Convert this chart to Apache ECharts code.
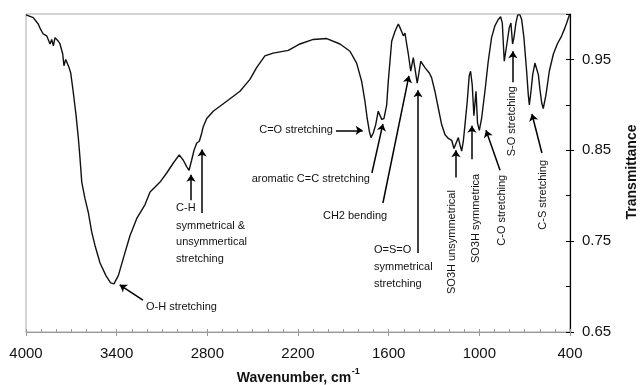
<!DOCTYPE html>
<html>
<head>
<meta charset="utf-8">
<script src="https://cdn.jsdelivr.net/npm/echarts@6/dist/echarts.min.js"></script>
<style>
  html, body { margin: 0; padding: 0; background: #fff; }
  #chart { width: 640px; height: 385px; }
</style>
</head>
<body>
<div id="chart"></div>
<script>
// FT-IR spectrum: wavenumber (cm-1) against transmittance
const wavenumbers = [
  4000, 3952, 3919, 3903, 3886, 3863, 3841, 3830, 3819, 3808, 3797, 3786, 3775, 3757, 3749, 3737,
  3727, 3715, 3704, 3691, 3680, 3669, 3654, 3643, 3631, 3610, 3588, 3565, 3543, 3510, 3471, 3440,
  3418, 3389, 3356, 3312, 3267, 3213, 3179, 3113, 3069, 3025, 2986, 2959, 2937, 2921, 2904, 2888,
  2870, 2853, 2837, 2827, 2804, 2761, 2672, 2584, 2518, 2474, 2419, 2364, 2264, 2187, 2099, 2010,
  1922, 1856, 1812, 1779, 1757, 1742, 1728, 1717, 1702, 1686, 1669, 1658, 1646, 1631, 1613, 1603,
  1580, 1558, 1536, 1525, 1514, 1503, 1492, 1481, 1470, 1454, 1437, 1426, 1411, 1398, 1388, 1375,
  1360, 1331, 1316, 1294, 1271, 1249, 1227, 1205, 1183, 1168, 1155, 1139, 1128, 1117, 1106, 1095,
  1080, 1067, 1058, 1047, 1036, 1022, 1012, 1000, 985, 963, 941, 919, 897, 875, 859, 848,
  842, 835, 826, 815, 802, 791, 780, 771, 758, 746, 731, 720, 705, 687, 676, 669,
  658, 647, 632, 621, 609, 599, 587, 577, 559, 537, 510, 484, 455, 433, 422, 415,
  406, 400
];
const transmittance = [
  0.999, 0.996, 0.989, 0.983, 0.978, 0.976, 0.967, 0.972, 0.965, 0.974, 0.976, 0.970, 0.967, 0.956, 0.943, 0.950,
  0.950, 0.941, 0.935, 0.919, 0.904, 0.889, 0.864, 0.842, 0.815, 0.797, 0.782, 0.760, 0.745, 0.726, 0.712, 0.704,
  0.703, 0.712, 0.731, 0.756, 0.775, 0.790, 0.804, 0.815, 0.825, 0.836, 0.845, 0.839, 0.832, 0.828, 0.839, 0.850,
  0.858, 0.860, 0.869, 0.876, 0.885, 0.893, 0.904, 0.915, 0.928, 0.941, 0.954, 0.957, 0.960, 0.967, 0.972, 0.973,
  0.967, 0.959, 0.946, 0.926, 0.904, 0.885, 0.871, 0.864, 0.869, 0.878, 0.893, 0.891, 0.884, 0.885, 0.900, 0.925,
  0.970, 0.981, 0.989, 0.985, 0.983, 0.976, 0.979, 0.967, 0.956, 0.937, 0.952, 0.950, 0.924, 0.937, 0.948, 0.946,
  0.941, 0.935, 0.930, 0.915, 0.896, 0.878, 0.867, 0.863, 0.861, 0.852, 0.854, 0.864, 0.856, 0.849, 0.860, 0.878,
  0.904, 0.932, 0.937, 0.922, 0.888, 0.915, 0.880, 0.872, 0.885, 0.915, 0.948, 0.974, 0.987, 0.994, 0.997, 0.990,
  0.970, 0.948, 0.946, 0.970, 0.985, 0.990, 0.967, 0.974, 0.990, 0.999, 0.999, 0.994, 0.974, 0.937, 0.911, 0.900,
  0.915, 0.933, 0.946, 0.944, 0.933, 0.917, 0.902, 0.896, 0.911, 0.937, 0.956, 0.967, 0.976, 0.985, 0.990, 0.989,
  0.998, 0.999
];

const xTickLabels = [4000, 3400, 2800, 2200, 1600, 1000, 400];
const yTickLabels = [0.65, 0.75, 0.85, 0.95];

// band assignments: label text and where it sits (wavenumber, transmittance)
const bandLabels = [
  { text: 'C=O stretching', wn: 1969, t: 0.872, align: 'right' },
  { text: 'aromatic C=C stretching', wn: 1724, t: 0.818, align: 'right' },
  { text: 'CH2 bending', wn: 2035, t: 0.778, align: 'left' },
  { text: 'O=S=O\nsymmetrical\nstretching', wn: 1697, t: 0.722, align: 'left', lineHeight: 17 },
  { text: 'SO3H unsymmetrical', wn: 1181, t: 0.749, rotate: true },
  { text: 'SO3H symmetrica', wn: 1022, t: 0.775, rotate: true },
  { text: 'C-O stretching', wn: 850, t: 0.784, rotate: true },
  { text: 'S-O stretching', wn: 784, t: 0.882, rotate: true },
  { text: 'C-S stretching', wn: 579, t: 0.801, rotate: true },
  { text: 'C-H', wn: 3007, t: 0.787, align: 'left' },
  { text: 'symmetrical &\nunsymmertical\nstretching', wn: 3007, t: 0.749, align: 'left', lineHeight: 16.5 },
  { text: 'O-H stretching', wn: 3206, t: 0.677, align: 'left' }
];

// arrows from each label to its band: [wn start, T start, wn tip, T tip]
const bandArrows = [
  [1949, 0.872, 1772, 0.872],
  [1711, 0.825, 1638, 0.879],
  [1638, 0.792, 1466, 0.932],
  [1406, 0.737, 1406, 0.916],
  [1155, 0.820, 1155, 0.850],
  [1049, 0.840, 1049, 0.877],
  [863, 0.828, 956, 0.872],
  [778, 0.925, 778, 0.959],
  [586, 0.847, 652, 0.890],
  [2908, 0.795, 2908, 0.823],
  [2835, 0.781, 2835, 0.851],
  [3226, 0.685, 3380, 0.702]
];

const FONT = '"Liberation Sans", Arial, Helvetica, sans-serif';
const chart = echarts.init(document.getElementById('chart'), null, { renderer: 'canvas' });

const spectrum = wavenumbers.map((w, i) => [w, transmittance[i]]);

const baseX = { type: 'value', inverse: true, min: 400, max: 4000, interval: 100, position: 'bottom', splitLine: { show: false } };
const baseY = { type: 'value', min: 0.65, max: 1.0, interval: 0.05, position: 'right', splitLine: { show: false } };

chart.setOption({
  animation: false,
  backgroundColor: '#fff',
  grid: { left: 26, right: 70, top: 14, bottom: 53, show: true, borderColor: '#a8a8a8', borderWidth: 1, outerBoundsMode: 'none' },
  xAxis: [
    Object.assign({}, baseX, {
      axisLine: { lineStyle: { color: '#9a9a9a', width: 1 } },
      axisTick: { inside: true, length: 3, lineStyle: { color: '#9a9a9a' } },
      axisLabel: { show: false }
    }),
    Object.assign({}, baseX, {
      axisLine: { show: false },
      axisTick: { customValues: xTickLabels, inside: false, length: 4, lineStyle: { color: '#9a9a9a' } },
      axisLabel: { customValues: xTickLabels, fontFamily: FONT, fontSize: 15, color: '#111', margin: 14,
                   formatter: v => String(v) }
    })
  ],
  yAxis: [
    Object.assign({}, baseY, {
      axisLine: { lineStyle: { color: '#000', width: 1.2 } },
      axisTick: { inside: true, length: 4, lineStyle: { color: '#000' } },
      axisLabel: { show: false }
    }),
    Object.assign({}, baseY, {
      axisLine: { show: false },
      axisTick: { customValues: yTickLabels, inside: false, length: 4, lineStyle: { color: '#000' } },
      axisLabel: { customValues: yTickLabels, fontFamily: FONT, fontSize: 15, color: '#111', margin: 12,
                   formatter: v => v.toFixed(2) }
    })
  ],
  series: [{
    type: 'line',
    xAxisIndex: 0,
    yAxisIndex: 0,
    data: spectrum,
    showSymbol: false,
    symbol: 'none',
    lineStyle: { color: '#111', width: 1.4 },
    markLine: {
      silent: true,
      symbol: ['none', 'arrow'],
      symbolSize: 7,
      label: { show: false },
      lineStyle: { color: '#000', width: 1.5, type: 'solid' },
      emphasis: { disabled: true },
      data: bandArrows.map(a => [{ coord: [a[0], a[1]] }, { coord: [a[2], a[3]] }])
    }
  }]
});

// text placed in data space
const px = (w, t) => chart.convertToPixel({ xAxisIndex: 0, yAxisIndex: 0 }, [w, t]);

const graphics = bandLabels.map(l => {
  const p = px(l.wn, l.t);
  return {
    type: 'text',
    x: p[0],
    y: p[1],
    rotation: l.rotate ? Math.PI / 2 : 0,
    silent: true,
    style: {
      text: l.text,
      font: '11px ' + FONT,
      fill: '#111',
      textAlign: l.rotate ? 'center' : l.align,
      textVerticalAlign: 'middle',
      lineHeight: l.lineHeight || 13
    }
  };
});

// axis titles
const plotLeft = px(4000, 0.65);
const plotRight = px(400, 0.65);
const ctx = document.createElement('canvas').getContext('2d');
ctx.font = 'bold 14px ' + FONT;
const mainW = ctx.measureText('Wavenumber, cm').width;
ctx.font = 'bold 9px ' + FONT;
const supW = ctx.measureText('-1').width;
const titleLeft = (plotLeft[0] + plotRight[0]) / 2 - (mainW + supW) / 2;

graphics.push({
  type: 'text', x: titleLeft, y: 378, silent: true,
  style: { text: 'Wavenumber, cm', font: 'bold 14px ' + FONT, fill: '#111', textAlign: 'left', textVerticalAlign: 'middle' }
});
graphics.push({
  type: 'text', x: titleLeft + mainW + 0.5, y: 372, silent: true,
  style: { text: '-1', font: 'bold 9px ' + FONT, fill: '#111', textAlign: 'left', textVerticalAlign: 'middle' }
});
graphics.push({
  type: 'text', x: 632, y: 172, rotation: Math.PI / 2, silent: true,
  style: { text: 'Transmittance', font: 'bold 14px ' + FONT, fill: '#111', textAlign: 'center', textVerticalAlign: 'middle' }
});

chart.setOption({ graphic: graphics });
</script>
</body>
</html>
